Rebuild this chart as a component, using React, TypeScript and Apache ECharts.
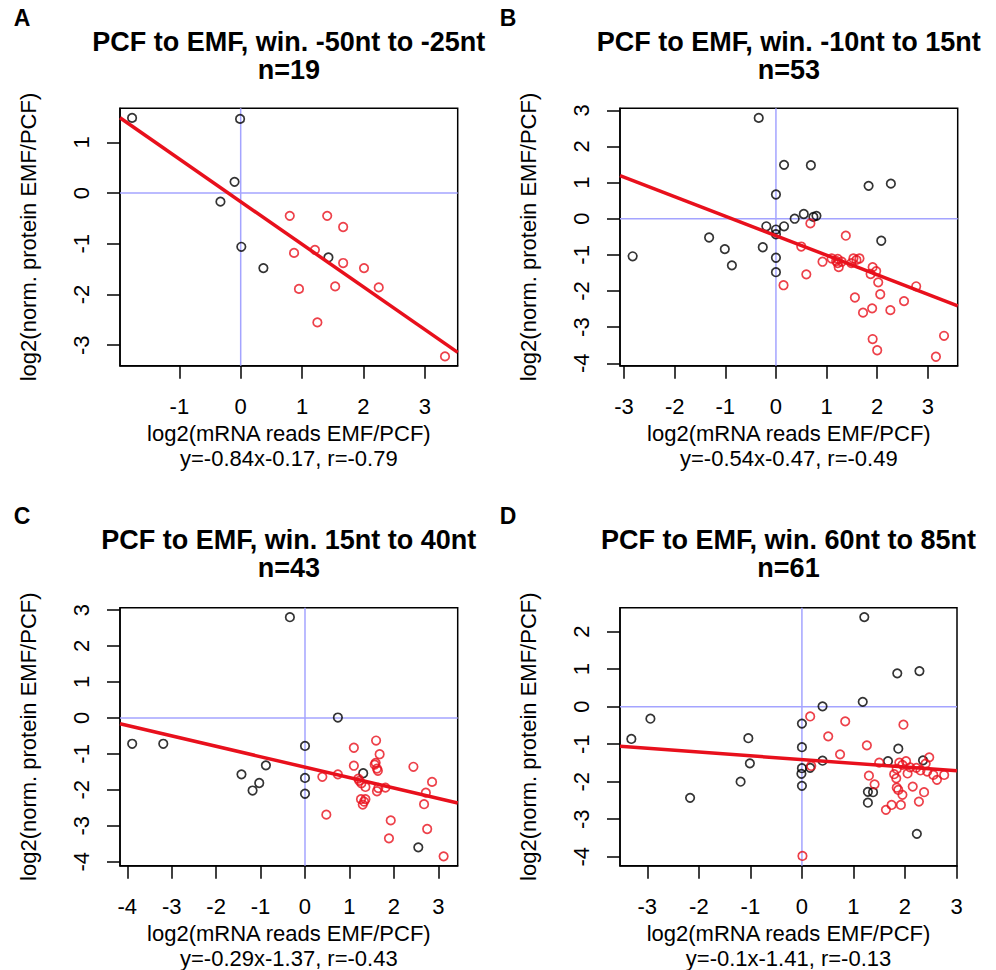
import React, { useEffect, useRef } from 'react';
import * as echarts from 'echarts';

const FONT = "'Liberation Sans', Arial, Helvetica, sans-serif";
const RED = '#e8101c';
const BLUE = '#a4a4ff';

// ---------- Panel A ----------
const aTitle = 'PCF to EMF, win. -50nt to -25nt';
const aN = 'n=19';
const aEq = 'y=-0.84x-0.17, r=-0.79';
const aFit = [-0.84, -0.17];
const aXTicks = [-1, 0, 1, 2, 3];
const aYTicks = [-3, -2, -1, 0, 1];
const aBlack = [[-1.77, 1.48], [-0.01, 1.46], [-0.1, 0.22], [-0.33, -0.17], [0.01, -1.06], [0.37, -1.48], [1.43, -1.27]];
const aRed = [[0.8, -0.45], [1.41, -0.45], [1.67, -0.67], [0.87, -1.18], [1.21, -1.12], [1.67, -1.38], [0.95, -1.89], [1.54, -1.84], [1.25, -2.55], [2.01, -1.48], [2.25, -1.86], [3.33, -3.22]];

// ---------- Panel B ----------
const bTitle = 'PCF to EMF, win. -10nt to 15nt';
const bN = 'n=53';
const bEq = 'y=-0.54x-0.47, r=-0.49';
const bFit = [-0.54, -0.47];
const bXTicks = [-3, -2, -1, 0, 1, 2, 3];
const bYTicks = [-4, -3, -2, -1, 0, 1, 2, 3];
const bBlack = [[-0.34, 2.79], [0.16, 1.49], [0.69, 1.48], [0.0, 0.67], [0.37, 0.0], [0.55, 0.13], [0.74, 0.05], [0.8, 0.08], [-0.19, -0.21], [0.16, -0.21], [0.0, -0.3], [0.0, -0.43], [-1.32, -0.52], [-1.01, -0.84], [-0.87, -1.29], [-0.26, -0.79], [0.0, -1.08], [0.0, -1.48], [-2.83, -1.04], [2.08, -0.61], [1.83, 0.91], [2.27, 0.97]];
const bRed = [[0.68, -0.13], [1.38, -0.47], [0.5, -0.77], [0.6, -1.54], [0.92, -1.19], [0.15, -1.84], [1.1, -1.1], [1.19, -1.17], [1.22, -1.11], [1.22, -1.23], [1.24, -1.34], [1.3, -1.19], [1.53, -1.1], [1.65, -1.1], [1.49, -1.23], [1.59, -1.14], [1.91, -1.34], [1.87, -1.53], [2.02, -1.76], [2.06, -2.09], [1.56, -2.18], [1.72, -2.6], [1.9, -2.48], [2.26, -2.53], [2.53, -2.28], [2.77, -1.87], [1.91, -3.33], [2.0, -3.64], [3.32, -3.24], [3.16, -3.82], [1.98, -1.45]];

// ---------- Panel C ----------
const cTitle = 'PCF to EMF, win. 15nt to 40nt';
const cN = 'n=43';
const cEq = 'y=-0.29x-1.37, r=-0.43';
const cFit = [-0.29, -1.37];
const cXTicks = [-4, -3, -2, -1, 0, 1, 2, 3];
const cYTicks = [-4, -3, -2, -1, 0, 1, 2, 3];
const cBlack = [[-0.34, 2.8], [0.74, 0.01], [-3.89, -0.72], [-3.19, -0.72], [0.0, -0.78], [-0.88, -1.32], [-1.43, -1.57], [-1.03, -1.81], [-1.18, -2.02], [0.0, -1.67], [0.0, -2.11], [1.31, -1.54], [2.55, -3.6]];
const cRed = [[0.39, -1.64], [0.74, -1.57], [0.48, -2.69], [1.1, -0.83], [1.1, -1.33], [1.6, -0.63], [1.68, -1.01], [1.59, -1.25], [1.62, -1.41], [1.64, -1.47], [2.44, -1.36], [1.2, -1.69], [1.27, -1.82], [1.36, -1.92], [1.62, -2.04], [1.81, -1.94], [1.26, -2.26], [1.36, -2.26], [1.3, -2.41], [1.33, -2.33], [2.86, -1.78], [2.72, -2.08], [2.68, -2.4], [1.93, -2.85], [1.89, -3.35], [2.75, -3.09], [3.12, -3.85], [1.57, -1.3], [1.22, -1.75], [1.65, -1.95]];

// ---------- Panel D ----------
const dTitle = 'PCF to EMF, win. 60nt to 85nt';
const dN = 'n=61';
const dEq = 'y=-0.1x-1.41, r=-0.13';
const dFit = [-0.1, -1.41];
const dXTicks = [-3, -2, -1, 0, 1, 2, 3];
const dYTicks = [-4, -3, -2, -1, 0, 1, 2];
const dBlack = [[-3.31, -0.86], [-2.94, -0.32], [-2.17, -2.43], [-1.19, -2.0], [-1.04, -0.84], [-1.01, -1.51], [0.0, -0.45], [0.0, -1.08], [0.0, -1.64], [-0.01, -1.79], [0.0, -2.11], [0.16, -1.63], [0.4, 0.01], [0.4, -1.44], [1.21, 2.39], [1.18, 0.13], [1.85, 0.89], [2.28, 0.95], [1.87, -1.12], [1.67, -1.45], [2.35, -1.43], [1.28, -2.27], [1.38, -2.28], [1.28, -2.56], [2.23, -3.39]];
const dRed = [[0.16, -0.26], [0.84, -0.39], [0.51, -0.79], [0.74, -1.27], [0.18, -1.58], [0.01, -3.98], [1.97, -0.48], [1.26, -1.03], [1.5, -1.49], [1.89, -1.49], [2.02, -1.45], [1.84, -1.66], [2.22, -1.63], [2.47, -1.35], [2.43, -1.73], [2.55, -1.82], [2.62, -1.95], [2.76, -1.82], [1.3, -1.84], [1.41, -2.07], [1.83, -1.91], [1.84, -2.16], [1.87, -2.22], [2.15, -2.13], [2.37, -2.28], [2.27, -2.53], [1.63, -2.75], [1.74, -2.62], [1.92, -2.62], [1.95, -1.55], [2.1, -1.62], [2.3, -1.7], [1.95, -2.35], [2.4, -1.52], [2.05, -1.78], [1.79, -1.8]];

const X_LABEL = 'log2(mRNA reads EMF/PCF)';
const Y_LABEL = 'log2(norm. protein EMF/PCF)';

const panels = [
  { letter: 'A', letterX: 22, letterY: 18, title: aTitle, n: aN, eq: aEq, fit: aFit, xTicks: aXTicks, yTicks: aYTicks, black: aBlack, red: aRed,
    grid: { left: 120, top: 108.3, width: 337.7, height: 257.4 }, x: [-1.967, 3.537], y: [-3.403, 1.669], titleY: [41.5, 69.5] },
  { letter: 'B', letterX: 508, letterY: 18, title: bTitle, n: bN, eq: bEq, fit: bFit, xTicks: bXTicks, yTicks: bYTicks, black: bBlack, red: bRed,
    grid: { left: 620, top: 108.3, width: 337.7, height: 257.4 }, x: [-3.08, 3.59], y: [-4.067, 3.055], titleY: [41.5, 69.5] },
  { letter: 'C', letterX: 22, letterY: 516, title: cTitle, n: cN, eq: cEq, fit: cFit, xTicks: cXTicks, yTicks: cYTicks, black: cBlack, red: cRed,
    grid: { left: 120, top: 607.7, width: 337.7, height: 258 }, x: [-4.164, 3.437], y: [-4.11, 3.064], titleY: [539.5, 567.5] },
  { letter: 'D', letterX: 508, letterY: 516, title: dTitle, n: dN, eq: dEq, fit: dFit, xTicks: dXTicks, yTicks: dYTicks, black: dBlack, red: dRed,
    grid: { left: 620, top: 607.7, width: 337, height: 258 }, x: [-3.53, 3.009], y: [-4.24, 2.64], titleY: [539.5, 567.5] },
];

function buildOption() {
  const grids: any[] = [];
  const xAxes: any[] = [];
  const yAxes: any[] = [];
  const series: any[] = [];
  const graphics: any[] = [];

  panels.forEach((p, i) => {
    grids.push({ ...p.grid, show: true, borderColor: '#000', borderWidth: 1.5, backgroundColor: 'transparent', containLabel: false });
    const common = {
      gridIndex: i,
      type: 'value',
      splitLine: { show: false },
      axisLine: { show: true, onZero: false, lineStyle: { color: '#000', width: 1.5 } },
    };
    xAxes.push({
      ...common,
      min: p.x[0],
      max: p.x[1],
      axisTick: { show: true, length: 13, lineStyle: { color: '#000', width: 1.5 }, customValues: p.xTicks },
      axisLabel: { show: true, customValues: p.xTicks, margin: 30, fontSize: 22, color: '#000', fontFamily: FONT, formatter: (v: number) => String(v) },
    });
    yAxes.push({
      ...common,
      min: p.y[0],
      max: p.y[1],
      axisTick: { show: true, length: 13, lineStyle: { color: '#000', width: 1.5 }, customValues: p.yTicks },
      axisLabel: { show: true, customValues: p.yTicks, rotate: 90, margin: 28, fontSize: 22, color: '#000', fontFamily: FONT, formatter: (v: number) => String(v) },
    });

    // reference lines at x=0 and y=0
    series.push({
      type: 'line', xAxisIndex: i, yAxisIndex: i, data: [[0, p.y[0]], [0, p.y[1]]], showSymbol: false, silent: true, z: 1,
      lineStyle: { color: BLUE, width: 1.5 },
    });
    series.push({
      type: 'line', xAxisIndex: i, yAxisIndex: i, data: [[p.x[0], 0], [p.x[1], 0]], showSymbol: false, silent: true, z: 1,
      lineStyle: { color: BLUE, width: 1.5 },
    });
    series.push({
      type: 'scatter', xAxisIndex: i, yAxisIndex: i, data: p.black, symbol: 'circle', symbolSize: 8.5, z: 3,
      itemStyle: { color: 'rgba(0,0,0,0)', borderColor: '#000', borderWidth: 1.7 },
    });
    series.push({
      type: 'scatter', xAxisIndex: i, yAxisIndex: i, data: p.red, symbol: 'circle', symbolSize: 8.5, z: 3,
      itemStyle: { color: 'rgba(0,0,0,0)', borderColor: RED, borderWidth: 1.7 },
    });
    const [s, b] = p.fit;
    series.push({
      type: 'line', xAxisIndex: i, yAxisIndex: i, data: [[p.x[0], s * p.x[0] + b], [p.x[1], s * p.x[1] + b]], showSymbol: false, silent: true, z: 4,
      lineStyle: { color: RED, width: 3.5 },
    });

    const cx = p.grid.left + p.grid.width / 2;
    const cy = p.grid.top + p.grid.height / 2;
    const bottom = p.grid.top + p.grid.height;
    const txt = (text: string, x: number, y: number, size: number, bold = false, rotation = 0) => ({
      type: 'text', x, y, rotation, silent: true,
      style: { text, fontSize: size, fontFamily: FONT, fontWeight: bold ? 'bold' : 'normal', fill: '#000', align: 'center', verticalAlign: 'middle' },
    });
    graphics.push(txt(p.letter, p.letterX, p.letterY, 23, true));
    graphics.push(txt(p.title, cx, p.titleY[0], 27, true));
    graphics.push(txt(p.n, cx, p.titleY[1], 27, true));
    graphics.push(txt(X_LABEL, cx, bottom + 67.5, 22));
    graphics.push(txt(p.eq, cx, bottom + 92.5, 22));
    graphics.push(txt(Y_LABEL, p.grid.left - 92, cy, 22, false, Math.PI / 2));
  });

  return {
    animation: false,
    backgroundColor: '#fff',
    textStyle: { fontFamily: FONT },
    grid: grids,
    xAxis: xAxes,
    yAxis: yAxes,
    series,
    graphic: { elements: graphics },
  };
}

export default function App() {
  const ref = useRef<HTMLDivElement>(null);
  useEffect(() => {
    if (!ref.current) return;
    const chart = echarts.init(ref.current, null, { renderer: 'svg', width: 996, height: 970 });
    chart.setOption(buildOption() as any);
    return () => chart.dispose();
  }, []);
  return <div ref={ref} style={{ position: 'absolute', left: 0, top: 0, width: 996, height: 970, background: '#fff' }} />;
}
